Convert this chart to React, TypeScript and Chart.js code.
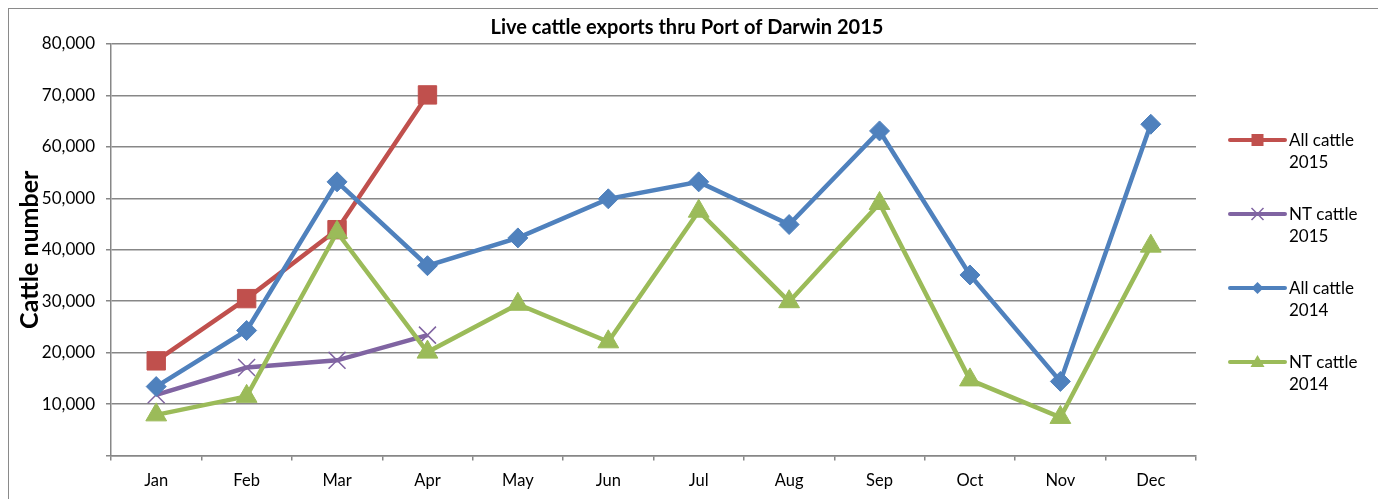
import React, { useEffect, useRef } from 'react';
import { Chart, registerables } from 'chart.js';

Chart.register(...registerables);

const chartTitle = 'Live cattle exports thru Port of Darwin 2015';
const yAxisTitle = 'Cattle number';
const months = ['Jan', 'Feb', 'Mar', 'Apr', 'May', 'Jun', 'Jul', 'Aug', 'Sep', 'Oct', 'Nov', 'Dec'];
const yTickValues = [0, 10000, 20000, 30000, 40000, 50000, 60000, 70000, 80000];

const seriesNames = ['All cattle 2015', 'NT cattle 2015', 'All cattle 2014', 'NT cattle 2014'];
const allCattle2015 = [18400, 30500, 43900, 70100, null, null, null, null, null, null, null, null];
const ntCattle2015 = [11800, 17100, 18500, 23400, null, null, null, null, null, null, null, null];
const allCattle2014 = [13400, 24300, 53200, 36900, 42300, 49900, 53200, 44900, 63100, 35100, 14400, 64400];
const ntCattle2014 = [7900, 11500, 43400, 20100, 29400, 22100, 47500, 29900, 49000, 14700, 7400, 40700];

const seriesColors = ['#C0504D', '#8064A2', '#4F81BD', '#9BBB59'];
const seriesMarkers = ['rect', 'crossRot', 'rectRot', 'triangle'];
const markerRadius = [13, 12, 10, 12];

const FONT = 'Lato, "Open Sans", "Liberation Sans", sans-serif';
const GRID = '#878787';

const CANVAS_W = 1372;
const CANVAS_H = 491;
const PLOT_LEFT = 102;
const PLOT_RIGHT = 1187;
const PLOT_TOP = 35;
const PLOT_BOTTOM = 446.5;

const sideTitleAndLegend = {
  id: 'sideLegend',
  afterDraw(chart: any) {
    const ctx: CanvasRenderingContext2D = chart.ctx;
    ctx.save();
    ctx.fillStyle = '#000';
    ctx.font = 'bold 20px ' + FONT;
    ctx.textAlign = 'center';
    ctx.textBaseline = 'middle';
    ctx.fillText(chartTitle, 678, 19);

    seriesNames.forEach((name, i) => {
      const y = 131 + i * 74;
      const x0 = 1221;
      const x1 = 1276;
      const color = seriesColors[i];
      ctx.strokeStyle = color;
      ctx.fillStyle = color;
      ctx.lineWidth = 4;
      ctx.lineCap = 'round';
      ctx.beginPath();
      ctx.moveTo(x0, y);
      ctx.lineTo(x1, y);
      ctx.stroke();
      const cx = (x0 + x1) / 2;
      const m = seriesMarkers[i];
      ctx.lineCap = 'butt';
      if (m === 'rect') {
        ctx.fillRect(cx - 6, y - 6, 12, 12);
      } else if (m === 'rectRot') {
        ctx.beginPath();
        ctx.moveTo(cx, y - 6);
        ctx.lineTo(cx + 6, y);
        ctx.lineTo(cx, y + 6);
        ctx.lineTo(cx - 6, y);
        ctx.closePath();
        ctx.fill();
      } else if (m === 'triangle') {
        ctx.beginPath();
        ctx.moveTo(cx, y - 7);
        ctx.lineTo(cx + 7, y + 5);
        ctx.lineTo(cx - 7, y + 5);
        ctx.closePath();
        ctx.fill();
      } else {
        ctx.lineWidth = 1.5;
        ctx.beginPath();
        ctx.moveTo(cx - 6, y - 6);
        ctx.lineTo(cx + 6, y + 6);
        ctx.moveTo(cx + 6, y - 6);
        ctx.lineTo(cx - 6, y + 6);
        ctx.stroke();
      }
      const parts = name.split(' ');
      const line2 = parts.pop() as string;
      const line1 = parts.join(' ');
      ctx.fillStyle = '#000';
      ctx.font = '17px ' + FONT;
      ctx.textAlign = 'left';
      ctx.textBaseline = 'middle';
      ctx.fillText(line1, 1280, y + 1);
      ctx.fillText(line2, 1280, y + 23);
    });
    ctx.restore();
  },
};

export default function App() {
  const ref = useRef<HTMLCanvasElement | null>(null);

  useEffect(() => {
    if (!ref.current) return;
    const data = [allCattle2015, ntCattle2015, allCattle2014, ntCattle2014];
    const chart = new Chart(ref.current, {
      type: 'line',
      data: {
        labels: months,
        datasets: data.map((d, i) => ({
          label: seriesNames[i],
          data: d,
          borderColor: seriesColors[i],
          backgroundColor: seriesColors[i],
          borderWidth: 4.5,
          pointStyle: seriesMarkers[i] as any,
          pointRadius: markerRadius[i],
          pointBorderWidth: seriesMarkers[i] === 'crossRot' ? 1.5 : 1,
          pointBorderColor: seriesColors[i],
          pointBackgroundColor: seriesColors[i],
          tension: 0,
          spanGaps: false,
          order: 3 - i,
        })),
      },
      options: {
        responsive: false,
        animation: false,
        layout: { padding: { left: 0, right: CANVAS_W - PLOT_RIGHT, top: PLOT_TOP, bottom: 0 } },
        plugins: {
          legend: { display: false },
          tooltip: { enabled: false },
          title: { display: false },
        },
        scales: {
          x: {
            type: 'category',
            offset: true,
            border: { display: true, color: GRID, width: 1.5 },
            grid: {
              display: true,
              offset: true,
              drawOnChartArea: false,
              drawTicks: true,
              tickLength: 5,
              color: GRID,
              lineWidth: 1.5,
            },
            ticks: {
              color: '#000',
              font: { family: FONT, size: 16.5 },
              padding: 10,
              maxRotation: 0,
              autoSkip: false,
            },
            afterFit: (s: any) => {
              s.height = CANVAS_H - PLOT_BOTTOM;
            },
          },
          y: {
            min: 0,
            max: 80000,
            border: { display: true, color: GRID, width: 1.5 },
            grid: {
              color: GRID,
              lineWidth: 1.5,
              drawTicks: true,
              tickLength: 5,
            },
            afterBuildTicks: (s: any) => {
              s.ticks = yTickValues.map((v) => ({ value: v }));
            },
            ticks: {
              color: '#000',
              font: { family: FONT, size: 17 },
              padding: 11,
              callback: (v: any) => (Number(v) === 0 ? '' : Number(v).toLocaleString('en-US')),
            },
            title: {
              display: true,
              text: yAxisTitle,
              color: '#000',
              font: { family: FONT, size: 25, weight: 'bold' },
              padding: { top: 6, bottom: 0 },
            },
            afterFit: (s: any) => {
              s.width = PLOT_LEFT;
            },
          },
        },
      },
      plugins: [sideTitleAndLegend],
    });
    return () => chart.destroy();
  }, []);

  return (
    <div
      style={{
        width: CANVAS_W,
        height: CANVAS_H,
        border: '1px solid #8a8a8a',
        background: '#fff',
      }}
    >
      <canvas ref={ref} width={CANVAS_W} height={CANVAS_H} style={{ display: 'block' }} />
    </div>
  );
}
